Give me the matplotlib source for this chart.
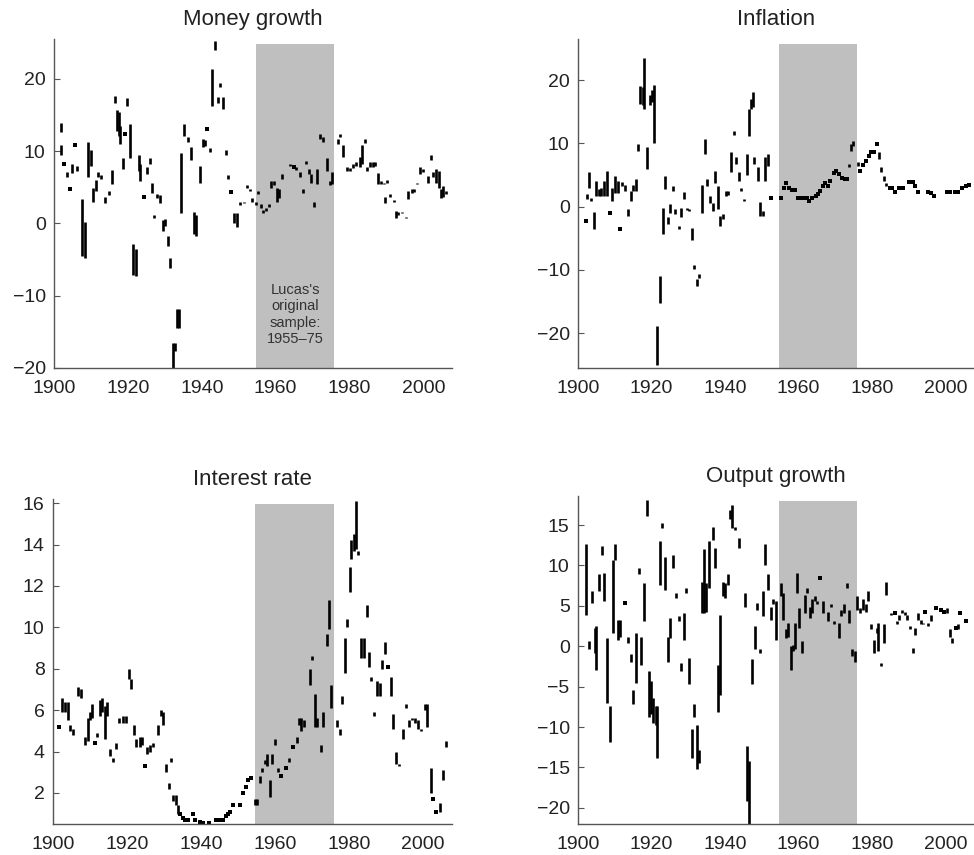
import numpy as np
import matplotlib
matplotlib.use("Agg")
import matplotlib.pyplot as plt

plt.rcParams['font.family'] = ['Liberation Sans', 'DejaVu Sans']

# Each series: year, low, high of a vertical stroke (low == high -> a dot)
money_year = [1901.8, 1902.0, 1902.7, 1903.4, 1904.3, 1904.9, 1905.6, 1906.3, 1907.7, 1908.3,
              1909.2, 1909.9, 1910.6, 1911.3, 1911.9, 1912.8, 1913.7, 1914.9, 1915.8, 1916.4,
              1917.0, 1917.5, 1918.0, 1918.7, 1919.3, 1919.8, 1920.7, 1921.4, 1922.2, 1922.9,
              1923.4, 1924.3, 1925.1, 1925.9, 1926.5, 1927.2, 1927.9, 1928.7, 1929.4, 1930.1,
              1930.8, 1931.5, 1932.1, 1932.8, 1933.3, 1933.8, 1934.4, 1935.1, 1936.4, 1937.2,
              1937.9, 1938.5, 1939.4, 1940.3, 1940.9, 1941.5, 1942.3, 1942.9, 1943.6, 1944.4,
              1944.9, 1945.8, 1946.5, 1947.2, 1947.9, 1948.7, 1949.4, 1950.4, 1951.3, 1952.2,
              1953.1, 1953.7, 1954.6, 1955.2, 1956.0, 1956.7, 1957.3, 1958.2, 1958.8, 1959.5,
              1960.3, 1960.9, 1961.8, 1963.8, 1964.9, 1965.6, 1966.5, 1967.4, 1968.1, 1969.0,
              1969.6, 1970.3, 1971.1, 1971.9, 1972.8, 1973.9, 1974.6, 1975.3, 1976.8, 1977.3,
              1978.2, 1979.3, 1980.0, 1980.9, 1981.8, 1982.7, 1983.4, 1984.1, 1984.7, 1985.6,
              1986.3, 1987.0, 1987.7, 1988.5, 1989.4, 1989.6, 1990.1, 1991.0, 1991.9, 1992.6,
              1993.2, 1994.1, 1995.3, 1995.9, 1996.8, 1997.5, 1998.2, 1999.1, 1999.8, 2001.1,
              2001.9, 2002.6, 2003.5, 2004.2, 2004.8, 2005.4, 2006.1]
money_lo = [12.7, 9.4, 8.2, 6.4, 4.8, 6.9, 10.8, 7.3, -4.5, -4.8,
            6.4, 8.0, 3.0, 4.5, 6.4, 6.1, 2.8, 3.9, 5.4, 16.7,
            12.8, 12.1, 11.0, 7.5, 12.3, 16.2, 9.1, -7.2, -7.3, 7.3,
            5.9, 3.7, 6.8, 8.2, 4.2, 0.7, 3.5, 2.8, -1.0, -0.3,
            -3.1, -6.2, -20.0, -17.6, -14.5, -14.5, 1.4, 12.1, 11.3, 8.7,
            -1.5, -1.7, 5.6, 10.6, 10.7, 13.0, 9.9, 16.2, 24.0, 16.7,
            18.8, 15.8, 9.4, 6.1, 4.4, 0.1, -0.5, 2.6, 2.8, 4.9,
            4.5, 3.0, 2.6, 4.0, 2.1, 1.4, 1.7, 2.2, 4.9, 5.3,
            3.0, 3.5, 6.1, 8.0, 7.8, 7.4, 6.4, 4.2, 8.2, 6.8,
            5.6, 2.3, 5.4, 11.6, 11.3, 7.3, 5.3, 5.4, 11.0, 11.9,
            9.2, 7.2, 7.3, 7.7, 8.0, 7.8, 8.2, 11.1, 7.3, 7.8,
            7.8, 8.0, 5.4, 5.4, 5.4, 2.8, 5.6, 3.7, 3.0, 0.8,
            1.1, 1.4, 0.7, 3.4, 4.2, 4.4, 5.4, 6.8, 7.1, 5.6,
            8.7, 6.4, 5.6, 4.9, 3.5, 3.7, 4.0]
money_hi = [13.9, 10.9, 8.2, 7.1, 4.8, 8.2, 10.8, 7.9, 3.4, 0.2,
            11.2, 10.1, 4.9, 6.0, 7.1, 6.7, 3.7, 4.5, 7.4, 17.6,
            15.7, 15.4, 13.5, 9.0, 12.3, 17.3, 13.8, -2.9, -3.6, 9.4,
            8.2, 3.7, 7.8, 9.0, 5.6, 1.2, 4.1, 3.9, 0.4, 0.6,
            -1.7, -4.8, -16.6, -16.6, -11.9, -11.9, 9.7, 13.8, 12.0, 10.5,
            1.6, 1.1, 7.9, 11.6, 11.5, 13.0, 10.4, 21.3, 25.2, 17.5,
            19.4, 17.5, 10.1, 6.7, 4.4, 1.4, 1.4, 3.0, 3.0, 5.3,
            4.8, 3.5, 3.0, 4.5, 2.7, 1.8, 2.1, 2.7, 5.9, 5.9,
            4.9, 4.7, 6.8, 8.2, 7.8, 7.8, 7.1, 4.8, 8.6, 7.5,
            6.8, 3.0, 7.5, 12.3, 12.0, 9.0, 5.9, 7.1, 11.7, 12.3,
            10.9, 7.8, 7.6, 8.2, 8.5, 9.2, 10.9, 11.6, 7.8, 8.5,
            8.5, 8.5, 6.9, 5.9, 5.6, 3.7, 6.0, 4.1, 3.3, 1.7,
            1.6, 1.6, 0.9, 4.5, 4.7, 4.8, 5.6, 7.8, 7.5, 6.6,
            9.4, 7.1, 7.5, 7.2, 4.7, 5.2, 4.5]

infl_year = [1902.2, 1902.5, 1903.0, 1903.6, 1904.3, 1904.9, 1905.6, 1906.3, 1907.0, 1907.9,
             1908.6, 1909.2, 1910.0, 1910.8, 1911.5, 1912.1, 1912.8, 1913.5, 1914.3, 1915.1,
             1915.7, 1916.4, 1917.0, 1917.6, 1917.9, 1918.7, 1919.6, 1920.2, 1920.8, 1921.5,
             1922.4, 1923.1, 1923.8, 1924.4, 1925.1, 1925.8, 1926.5, 1927.4, 1928.0, 1928.7,
             1929.6, 1930.3, 1930.9, 1931.6, 1932.3, 1932.9, 1933.6, 1934.5, 1935.2, 1935.9,
             1936.6, 1937.4, 1938.1, 1938.7, 1939.5, 1940.2, 1940.8, 1941.7, 1942.4, 1943.0,
             1943.8, 1944.4, 1945.1, 1946.0, 1946.6, 1947.1, 1947.5, 1948.0, 1948.9, 1949.6,
             1950.2, 1950.9, 1951.7, 1952.5, 1955.2, 1955.9, 1956.7, 1957.4, 1958.3, 1959.0,
             1959.9, 1960.8, 1961.4, 1962.3, 1962.9, 1963.7, 1964.6, 1965.3, 1965.9, 1966.5,
             1967.3, 1968.0, 1968.6, 1969.5, 1970.2, 1971.0, 1971.7, 1972.5, 1973.1, 1973.7,
             1974.3, 1974.9, 1976.1, 1976.7, 1977.6, 1978.3, 1979.1, 1979.8, 1980.5, 1981.2,
             1981.9, 1982.5, 1983.2, 1983.9, 1984.8, 1985.4, 1986.1, 1987.3, 1988.3, 1990.1,
             1991.0, 1991.6, 1992.4, 1995.2, 1995.9, 1996.9, 2000.4, 2001.3, 2002.4, 2003.3,
             2004.5, 2005.4, 2006.3]
infl_lo = [-2.3, 1.2, 3.0, 0.9, -3.6, 1.7, 1.7, 1.7, 1.7, 1.7,
           -1.0, 0.9, 2.2, 2.2, -3.6, 3.2, 2.5, -1.5, 0.9, 2.5,
           2.5, 8.8, 16.2, 16.0, 15.4, 5.9, 16.0, 16.5, 10.1, -25.0,
           -15.3, -4.4, 2.8, -2.8, -1.0, 2.5, -1.2, -3.6, -1.6, 1.2,
           -0.5, -0.7, -5.2, -9.9, -12.6, -11.3, -1.0, 8.3, 3.3, 0.6,
           -0.7, 3.8, -0.4, -3.1, -2.0, 1.7, 1.9, 5.4, 11.3, 6.7,
           4.1, 2.5, 0.9, 5.0, 11.2, 15.4, 15.7, 6.7, 4.1, -1.5,
           -1.5, 4.1, 6.5, 1.4, 1.4, 3.0, 3.8, 2.9, 2.6, 2.6,
           1.4, 1.4, 1.3, 1.3, 0.9, 1.3, 1.7, 2.0, 2.5, 3.3,
           3.7, 3.3, 4.1, 5.3, 5.7, 5.1, 4.6, 4.3, 4.3, 6.2,
           8.8, 9.6, 6.5, 5.7, 6.6, 7.2, 8.0, 8.6, 8.6, 9.9,
           7.5, 5.4, 4.1, 3.3, 3.0, 2.9, 2.3, 3.0, 3.0, 3.9,
           3.9, 3.3, 2.3, 2.3, 2.2, 1.7, 2.3, 2.3, 2.3, 2.3,
           3.0, 3.2, 3.5]
infl_hi = [-2.3, 2.0, 5.4, 1.4, -0.8, 4.1, 2.8, 3.0, 4.1, 5.7,
           -1.0, 2.9, 4.9, 4.1, -3.6, 3.9, 3.5, -0.4, 2.5, 3.5,
           4.4, 9.9, 19.0, 18.9, 23.5, 9.4, 17.6, 18.4, 19.3, -18.9,
           -11.0, -0.2, 4.9, -1.7, 0.4, 3.3, -0.3, -3.1, -0.2, 2.3,
           -0.2, -0.3, -3.3, -9.2, -11.5, -10.6, 3.5, 10.7, 4.3, 1.7,
           0.6, 5.7, 3.2, -1.5, -1.2, 2.5, 2.4, 8.6, 12.0, 7.8,
           5.4, 2.9, 1.2, 8.3, 15.4, 17.0, 18.2, 7.8, 6.2, 0.7,
           -0.7, 7.8, 8.3, 1.4, 1.4, 3.0, 3.8, 2.9, 2.6, 2.6,
           1.4, 1.4, 1.3, 1.3, 0.9, 1.3, 1.7, 2.0, 2.5, 3.3,
           3.7, 3.3, 4.1, 5.3, 5.7, 5.1, 4.6, 4.3, 4.3, 6.7,
           9.9, 10.4, 7.0, 5.7, 6.6, 7.2, 8.0, 8.6, 8.6, 9.9,
           8.6, 6.2, 4.9, 3.8, 3.0, 2.9, 2.3, 3.0, 3.0, 3.9,
           3.9, 3.3, 2.3, 2.3, 2.2, 1.7, 2.3, 2.3, 2.3, 2.3,
           3.0, 3.2, 3.5]

rate_year = [1901.5, 1902.4, 1903.2, 1904.1, 1904.7, 1905.4, 1906.8, 1907.7, 1908.6, 1909.5,
             1910.1, 1910.6, 1911.3, 1911.9, 1912.6, 1913.3, 1914.0, 1914.7, 1915.5, 1916.2,
             1916.9, 1917.7, 1918.9, 1919.6, 1920.5, 1921.2, 1921.9, 1922.5, 1923.4, 1924.1,
             1924.8, 1925.5, 1926.1, 1927.0, 1928.4, 1929.1, 1929.7, 1930.6, 1931.4, 1931.8,
             1932.4, 1933.2, 1933.8, 1934.2, 1935.0, 1935.6, 1936.5, 1937.7, 1938.3, 1939.6,
             1940.5, 1942.2, 1944.1, 1945.0, 1945.9, 1946.7, 1947.3, 1947.7, 1948.6, 1950.5,
             1951.4, 1952.1, 1952.7, 1953.6, 1954.5, 1955.0, 1955.9, 1956.6, 1957.2, 1957.8,
             1958.6, 1959.3, 1959.9, 1960.8, 1961.7, 1962.9, 1963.8, 1964.9, 1965.8, 1966.5,
             1967.1, 1967.8, 1969.5, 1970.1, 1970.7, 1971.2, 1972.3, 1973.0, 1973.9, 1974.6,
             1975.2, 1976.8, 1977.5, 1978.1, 1978.8, 1979.5, 1980.2, 1980.6, 1981.3, 1981.8,
             1982.4, 1983.3, 1984.0, 1984.7, 1985.4, 1986.0, 1986.7, 1987.6, 1988.3, 1989.0,
             1989.6, 1990.4, 1991.2, 1991.9, 1992.6, 1993.4, 1994.6, 1995.3, 1996.2, 1997.0,
             1997.8, 1998.6, 1999.5, 2000.4, 2001.1, 2002.0, 2002.7, 2003.4, 2004.6, 2005.4,
             2006.1]
rate_lo = [5.2, 5.9, 5.9, 5.5, 5.0, 4.8, 6.7, 6.6, 4.3, 4.5,
           5.5, 5.6, 4.4, 4.7, 5.7, 5.9, 4.6, 5.7, 3.8, 3.5,
           4.1, 5.4, 5.4, 5.4, 7.5, 7.0, 4.8, 4.2, 4.2, 4.3,
           3.3, 3.9, 4.0, 4.2, 4.8, 5.7, 5.3, 3.0, 2.2, 3.5,
           1.6, 1.4, 1.0, 1.0, 0.8, 0.7, 0.7, 1.0, 0.7, 0.6,
           0.55, 0.55, 0.7, 0.7, 0.7, 0.9, 1.0, 1.1, 1.4, 1.4,
           2.0, 2.3, 2.6, 2.7, 1.4, 1.4, 2.5, 3.0, 3.4, 3.3,
           1.8, 3.4, 4.3, 3.0, 2.8, 3.2, 3.5, 4.2, 4.4, 5.3,
           5.0, 5.2, 7.2, 8.4, 5.2, 5.2, 4.0, 5.2, 9.1, 9.9,
           6.1, 5.2, 4.8, 6.3, 7.8, 10.0, 11.7, 13.3, 13.7, 13.8,
           13.5, 8.5, 8.5, 10.5, 8.1, 7.4, 5.7, 6.7, 6.7, 8.0,
           8.7, 8.1, 6.7, 5.1, 3.4, 3.3, 4.6, 6.1, 5.2, 5.5,
           5.4, 5.1, 5.0, 6.0, 5.2, 2.0, 1.7, 1.1, 1.1, 2.6,
           4.2]
rate_hi = [5.2, 6.6, 6.4, 6.4, 5.3, 5.1, 7.1, 7.0, 4.7, 5.6,
           5.9, 6.3, 4.4, 4.9, 6.5, 6.6, 6.2, 6.4, 4.1, 3.7,
           4.4, 5.6, 5.7, 5.7, 8.0, 7.5, 5.3, 4.6, 4.7, 4.7,
           3.3, 4.2, 4.3, 4.4, 5.3, 6.0, 5.9, 3.4, 2.5, 3.7,
           1.9, 1.9, 1.4, 1.0, 0.8, 0.7, 0.7, 1.0, 0.7, 0.6,
           0.55, 0.55, 0.7, 0.7, 0.7, 0.9, 1.0, 1.1, 1.4, 1.4,
           2.0, 2.3, 2.6, 2.7, 1.7, 1.7, 2.8, 3.2, 3.6, 3.9,
           2.6, 3.9, 4.6, 3.2, 2.8, 3.2, 3.7, 4.2, 4.7, 5.6,
           5.6, 5.5, 8.0, 8.6, 6.8, 5.6, 4.3, 5.9, 9.7, 11.3,
           7.2, 5.5, 5.1, 6.7, 9.5, 10.4, 12.9, 14.2, 14.5, 16.1,
           13.7, 9.5, 9.5, 11.1, 8.8, 7.6, 5.9, 7.4, 7.3, 8.4,
           9.3, 8.1, 7.6, 5.8, 4.0, 3.4, 5.1, 6.3, 5.5, 5.6,
           5.6, 5.5, 5.1, 6.3, 6.3, 3.2, 1.7, 1.1, 1.5, 3.1,
           4.5]

output_year = [1902.3, 1902.9, 1903.8, 1904.5, 1904.9, 1905.8, 1906.5, 1907.2, 1907.9, 1908.6,
               1909.4, 1910.0, 1910.8, 1911.4, 1912.8, 1913.6, 1914.3, 1915.1, 1915.8, 1916.6,
               1917.2, 1917.9, 1918.7, 1919.3, 1919.9, 1920.4, 1921.1, 1921.5, 1922.2, 1922.9,
               1923.7, 1924.4, 1925.1, 1925.8, 1926.6, 1927.4, 1928.1, 1928.7, 1929.4, 1930.2,
               1930.9, 1931.6, 1932.3, 1932.9, 1933.6, 1934.2, 1934.9, 1935.7, 1936.6, 1937.3,
               1938.0, 1938.7, 1939.5, 1940.1, 1940.8, 1941.4, 1942.0, 1942.6, 1943.8, 1945.3,
               1945.9, 1946.5, 1947.4, 1948.1, 1948.7, 1949.5, 1950.2, 1950.9, 1951.6, 1952.5,
               1953.1, 1953.8, 1955.2, 1955.8, 1956.5, 1957.2, 1958.0, 1958.5, 1958.9, 1959.6,
               1960.2, 1961.0, 1961.7, 1962.4, 1963.0, 1963.7, 1964.4, 1965.0, 1965.9, 1966.6,
               1968.0, 1968.9, 1969.5, 1970.9, 1971.6, 1972.3, 1973.1, 1973.8, 1974.4, 1975.3,
               1975.9, 1976.7, 1977.6, 1978.3, 1978.9, 1979.6, 1980.4, 1981.2, 1981.6, 1982.5,
               1983.2, 1983.9, 1985.2, 1986.1, 1986.7, 1987.4, 1988.1, 1988.8, 1989.5, 1990.3,
               1991.0, 1991.7, 1992.5, 1993.2, 1993.9, 1994.5, 1995.3, 1996.1, 1997.3, 1998.7,
               1999.6, 2000.4, 2001.2, 2001.8, 2002.7, 2003.3, 2004.0, 2005.4]
output_lo = [3.9, -0.4, 5.4, -0.8, -2.9, 6.8, 11.3, 5.6, -7.0, -11.9,
             1.6, 10.7, 0.8, 1.2, 5.4, 0.4, -1.9, -7.2, -4.5, 8.9,
             -2.3, 3.1, 16.1, -8.7, -8.4, -9.5, -9.7, -13.8, 7.6, 14.6,
             7.0, -1.9, 1.0, 9.7, 6.0, 3.1, -3.1, 0.8, 6.6, -4.7,
             -13.8, -8.7, -15.2, -14.4, 4.1, 4.1, 4.3, 7.2, 13.2, 9.7,
             -8.2, -6.0, 6.2, 6.0, 7.6, 15.7, 14.6, 14.4, 12.2, 4.9,
             -19.2, -22.0, -4.7, -0.4, 4.5, -0.8, 3.7, 10.1, 7.0, 3.3,
             5.2, 0.8, 6.2, 3.3, 1.0, 1.2, -2.9, -0.6, -0.4, 6.6,
             2.3, -0.8, 4.1, 6.6, 3.5, 4.1, 5.6, 5.2, 8.4, 4.1,
             3.1, 4.9, 2.7, 1.0, 3.7, 4.1, 7.2, 2.9, -1.2, -1.9,
             4.5, 4.1, 4.5, 4.3, 5.6, 2.1, -0.8, 1.6, -0.6, -2.5,
             0.4, 6.4, 3.9, 4.1, 2.7, 3.3, 4.1, 3.9, 3.3, 2.1,
             -0.8, 1.4, 3.3, 2.7, 2.7, 4.3, 2.5, 3.1, 4.7, 4.5,
             4.3, 4.1, 1.2, 0.4, 2.3, 2.1, 4.1, 3.1]
output_hi = [12.6, 0.6, 6.8, 2.3, 2.5, 8.9, 12.4, 9.1, 1.0, -7.4,
             10.7, 12.6, 3.3, 3.3, 5.4, 1.2, -1.0, -5.4, 1.6, 9.7,
             1.2, 7.8, 18.1, -3.1, -4.3, -6.4, -7.4, -7.4, 13.0, 15.2,
             11.1, 1.2, 3.5, 11.3, 6.6, 3.7, -2.1, 4.1, 7.2, -1.4,
             -10.3, -7.2, -9.7, -12.8, 8.0, 12.0, 7.8, 13.0, 14.8, 12.2,
             -2.3, 3.9, 8.0, 7.8, 8.9, 16.9, 17.5, 14.8, 13.4, 6.6,
             -12.4, -14.2, -1.6, 2.5, 5.4, -0.4, 6.8, 12.6, 8.9, 4.9,
             5.8, 5.6, 7.8, 6.6, 2.1, 2.9, 0.0, 0.2, 2.9, 9.1,
             4.7, 0.6, 6.4, 7.2, 4.9, 5.8, 6.2, 5.6, 8.4, 5.6,
             4.3, 5.2, 3.1, 2.9, 4.5, 5.2, 7.8, 4.5, -0.4, -0.6,
             6.2, 4.7, 5.8, 5.2, 6.8, 2.7, 0.8, 2.3, 2.9, -2.1,
             2.7, 8.0, 4.1, 4.1, 3.1, 3.9, 4.5, 4.3, 3.9, 2.5,
             -0.2, 2.3, 4.1, 3.3, 2.9, 4.3, 2.9, 3.9, 4.7, 4.5,
             4.3, 4.7, 2.1, 1.0, 2.3, 2.7, 4.1, 3.1]

titles = ["Money growth", "Inflation", "Interest rate", "Output growth"]
ylims = [(-20, 25.5), (-25.5, 26.5), (0.5, 16.2), (-22, 18.6)]
yticks = [[-20, -10, 0, 10, 20], [-20, -10, 0, 10, 20],
          [2, 4, 6, 8, 10, 12, 14, 16], [-20, -15, -10, -5, 0, 5, 10, 15]]
xticks = [1900, 1920, 1940, 1960, 1980, 2000]
sample_start, sample_end = 1954.7, 1975.9

series = [(money_year, money_lo, money_hi), (infl_year, infl_lo, infl_hi),
          (rate_year, rate_lo, rate_hi), (output_year, output_lo, output_hi)]

# axes boxes in figure fractions [left, bottom, width, height]
boxes = [[0.0554, 0.5696, 0.4086, 0.3848],
         [0.5934, 0.5696, 0.4066, 0.3848],
         [0.0544, 0.0363, 0.4093, 0.3801],
         [0.5934, 0.0363, 0.4066, 0.3836]]

fig = plt.figure(figsize=(9.74, 8.55), dpi=100)

for i in range(4):
    ax = fig.add_axes(boxes[i])
    yr, lo, hi = (np.array(a) for a in series[i])
    lo_c = np.clip(lo, *ylims[i])
    hi_c = np.clip(hi, *ylims[i])

    ax.axvspan(sample_start, sample_end, ymax=0.985, color='#bfbfbf', lw=0, zorder=0)

    seg = hi_c > lo_c
    ax.vlines(yr[seg], lo_c[seg], hi_c[seg], colors='black', linewidth=1.9, zorder=2)
    ax.plot(yr[~seg], lo_c[~seg], 's', color='black', markersize=2.2,
            markeredgewidth=0, zorder=2)

    ax.set_xlim(1900.3, 2007.7)
    ax.set_ylim(*ylims[i])
    ax.set_xticks(xticks)
    ax.set_yticks(yticks[i])
    ax.tick_params(axis='x', length=0, labelsize=14, pad=8.5, labelcolor='#222222')
    ax.tick_params(axis='y', direction='in', length=4, width=0.8, color='#555555',
                   labelsize=14, pad=6, labelcolor='#222222')
    for side in ['top', 'right']:
        ax.spines[side].set_visible(False)
    for side in ['left', 'bottom']:
        ax.spines[side].set_color('#555555')
        ax.spines[side].set_linewidth(1.0)
    ax.set_title(titles[i], fontsize=16, color='#222222', pad=10)

    if i == 0:
        ax.text((sample_start + sample_end) / 2, -12.6,
                "Lucas's\noriginal\nsample:\n1955\u201375",
                ha='center', va='center', fontsize=10.5, color='#333333',
                linespacing=1.2)

fig.savefig("out.png", dpi=100)
